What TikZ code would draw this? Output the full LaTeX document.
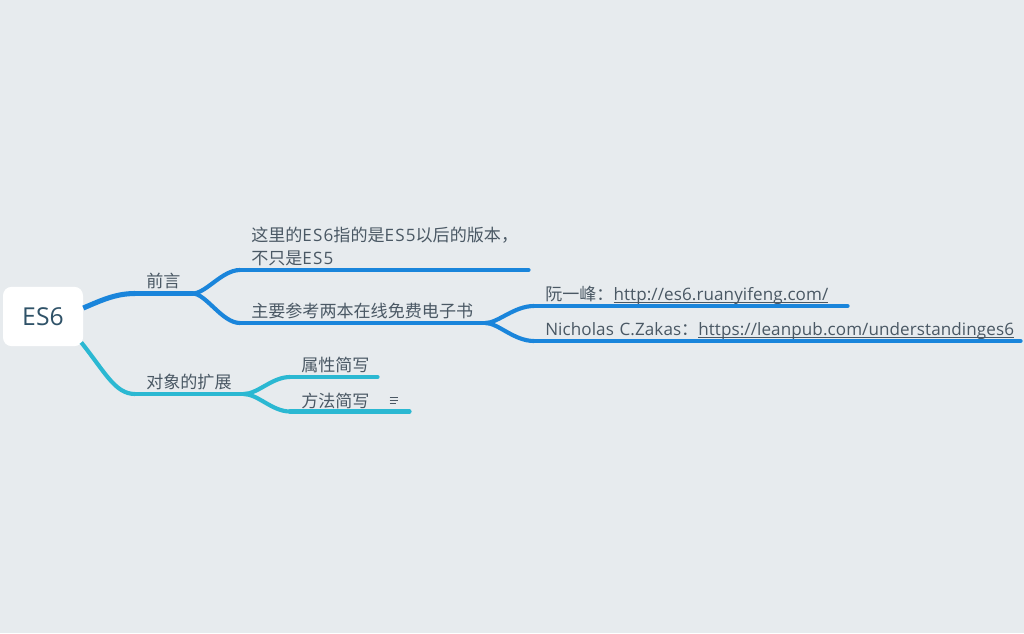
\documentclass[tikz,border=0pt]{standalone}
\usepackage{fontspec}
\setmainfont[LetterSpace=0.5]{Open Sans}
\newfontfamily\cjk{Noto Sans CJK SC}
\newfontfamily\capsfont[LetterSpace=7]{Open Sans}
\definecolor{pagebg}{RGB}{231,235,238}
\definecolor{bluebranch}{RGB}{26,133,219}
\definecolor{tealbranch}{RGB}{43,184,210}
\definecolor{topictext}{RGB}{74,88,100}
\definecolor{roottext}{RGB}{47,82,104}
\newcommand{\linktext}[1]{\underline{\smash{#1}}}
\tikzset{
	topic/.style={anchor=south west, inner xsep=8.25pt, inner ysep=0pt, text width=#1*0.75pt-16.5pt, align=left, text depth=4.1pt, text=topictext, font=\fontsize{12.8pt}{17.2pt}\selectfont},
	bluelink/.style={draw=bluebranch, line width=3.1pt},
	teallink/.style={draw=tealbranch, line width=3.1pt}
}
\begin{document}
\begin{tikzpicture}[x=0.75pt, y=-0.75pt]
	\fill[pagebg] (0,0) rectangle (1024,633);
	\useasboundingbox (0,0) rectangle (1024,633);
	
	%root
	\node[fill=white, rounded corners=6.5pt, minimum width=60pt, minimum height=44.5pt, inner sep=0pt, text=roottext, font=\fontsize{18.5pt}{20pt}\selectfont] (root) at (43,316.5) {ES6};
	
	%first level
	\node[topic=57] (intro) at (135,293.5) {{\cjk 前言}};
	\node[topic=108] (objext) at (135,394) {{\cjk 对象的扩展}};
	
	%blue branches
	\node[topic=288, text depth=21pt] (scope) at (240,270) {{\cjk 这里的}{\capsfont ES6}{\cjk 指的是}{\capsfont ES5}{\cjk 以后的版本，}\\{\cjk 不只是}{\capsfont ES5}};
	\node[topic=245] (books) at (240,323) {{\cjk 主要参考两本在线免费电子书}};
	\node[topic=313] (ruan) at (534,306) {{\cjk 阮一峰：}\linktext{http://es6.ruanyifeng.com/}};
	\node[topic=486] (zakas) at (534,341) {Nicholas C.Zakas{\cjk ：}\linktext{https://leanpub.com/understandinges6}};
	
	%teal branches
	\node[topic=87, text depth=3.8pt] (shortprop) at (290,377) {{\cjk 属性简写}};
	\node[topic=119, text depth=3pt] (shortmeth) at (290,411.5) {{\cjk 方法简写}};
	
	%underlines
	\draw[bluelink, line width=3.8pt, line cap=round] (intro.south west) -- (intro.south east);
	\foreach \n in {scope,books,ruan,zakas}
	\draw[bluelink, line cap=round] (\n.south west) -- (\n.south east);
	\foreach \n in {objext,shortprop,shortmeth}
	\draw[teallink, line cap=round] (\n.south west) -- (\n.south east);
	
	%links
	\draw[bluelink, line width=3.8pt] (root.east |- 0,308) .. controls (100,301) and (115,293.5) .. (intro.south west);
	\draw[teallink] (root.south east) ++(-2,-4) .. controls (105,372) and (115,394) .. (objext.south west);
	\draw[bluelink] (intro.south east) .. controls (206,293.5) and (222,270) .. (scope.south west);
	\draw[bluelink] (intro.south east) .. controls (206,293.5) and (222,323) .. (books.south west);
	\draw[bluelink] (books.south east) .. controls (498,323) and (514,306) .. (ruan.south west);
	\draw[bluelink] (books.south east) .. controls (498,323) and (514,341) .. (zakas.south west);
	\draw[teallink] (objext.south east) .. controls (258,394) and (272,377) .. (shortprop.south west);
	\draw[teallink] (objext.south east) .. controls (258,394) and (272,411.5) .. (shortmeth.south west);
	
	%note mark
	\node[inner sep=0pt, minimum width=6pt, minimum height=4pt] (notemark) at (394,400.5) {};
	\draw[topictext, line width=0.45pt] (notemark.north west) -- (notemark.north east);
	\draw[topictext, line width=0.45pt] (notemark.west) -- (notemark.east);
	\draw[topictext, line width=0.45pt] (notemark.south west) -- ([xshift=-1.5pt]notemark.south east);
\end{tikzpicture}
\end{document}
